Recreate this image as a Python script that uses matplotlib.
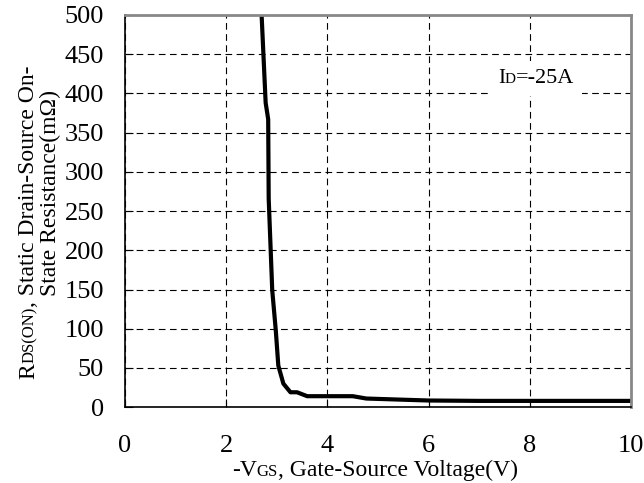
import matplotlib
matplotlib.use("Agg")
import matplotlib.pyplot as plt
from matplotlib.patches import Rectangle
from matplotlib.transforms import Bbox
import numpy as np

# -VGS (V) vs RDS(ON) (mOhm)
vgs = [2.70, 2.78, 2.83, 2.84, 2.91, 2.98, 3.03, 3.13, 3.27, 3.40, 3.60, 4.50, 4.77, 5.50, 6.00, 7.00, 8.00, 9.00, 10.00]
rds = [500, 388, 367, 266, 149, 98, 53, 30, 19, 19, 14, 14, 11, 9.5, 8.5, 8, 8, 8, 8]

xticks = [0, 2, 4, 6, 8, 10]
yticks = list(range(0, 501, 50))

plt.rcParams['font.family'] = ['Liberation Serif', 'DejaVu Serif']

W, H = 644, 483
fig = plt.figure(figsize=(W / 100, H / 100), dpi=100)
ax = fig.add_axes([0.194, 0.157, 0.786, 0.812])

ax.plot(vgs, rds, color='black', lw=3, solid_joinstyle='round')

ax.set_xlim(0, 10)
ax.set_ylim(0, 500)
ax.set_xticks(xticks)
ax.set_yticks(yticks)
ax.tick_params(direction='in', length=6, labelsize=19, color='black')
ax.tick_params(axis='x', pad=20)
ax.tick_params(axis='y', pad=15)
ax.grid(True, color='black', ls=(0, (6, 4)), lw=0.8)

for s in ['left', 'bottom']:
    ax.spines[s].set_color('black')
    ax.spines[s].set_linewidth(1.2)
for s in ['top', 'right']:
    ax.spines[s].set_color('#888888')
    ax.spines[s].set_linewidth(2)

rend = fig.canvas.get_renderer()

def seq_text(cx, cy, pieces, rot=0):
    # draw text pieces of mixed sizes on one baseline, centred at (cx, cy) pixels
    objs = [fig.text(0, 0, s, fontsize=fs, rotation=rot, ha='left', va='baseline',
                     rotation_mode='anchor') for s, fs in pieces]
    sizes = []
    for t in objs:
        bb = t.get_window_extent(rend)
        sizes.append(bb.height if rot == 90 else bb.width)
    pos = -sum(sizes) / 2
    for t, w in zip(objs, sizes):
        if rot == 90:
            t.set_position((cx / W, (cy + pos) / H))
        else:
            t.set_position(((cx + pos) / W, cy / H))
        pos += w
    return objs

# x label
seq_text(375, 7, [('-V', 17), ('GS', 12), (', Gate-Source Voltage(V)', 17)])
# y label, two lines
seq_text(34, 261, [('R', 17), ('DS(ON)', 12), (', Static Drain-Source On-', 17)], rot=90)
seq_text(56, 290, [('State Resistance(m\u03a9)', 17)], rot=90)
# annotation with a white patch behind it (breaks the grid lines)
ann = seq_text(536, 400, [('I', 15), ('D', 11), ('=-25A', 16)])
bb = Bbox.union([t.get_window_extent(rend) for t in ann])
pad = 8
fig.patches.append(Rectangle(((bb.x0 - pad) / W, (bb.y0 - pad) / H),
                             (bb.width + 2 * pad) / W, (bb.height + 2 * pad) / H,
                             transform=fig.transFigure, fc='white', ec='none', zorder=1))

fig.savefig('out.png', dpi=100)
